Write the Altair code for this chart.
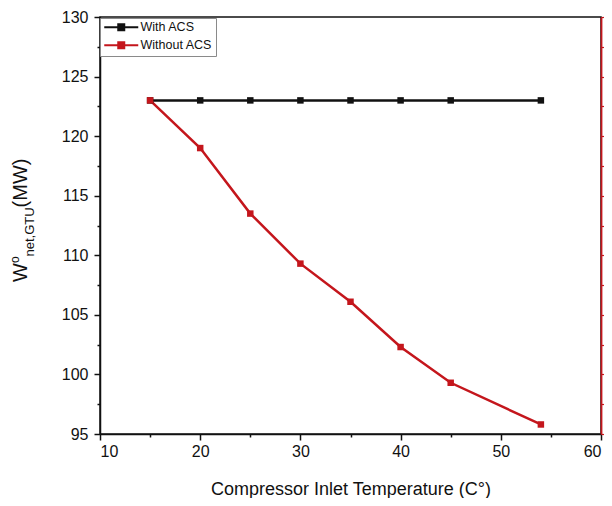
import altair as alt
import pandas as pd

# ---- data ----
temps = [15, 20, 25, 30, 35, 40, 45, 54]
with_acs = [123.0, 123.0, 123.0, 123.0, 123.0, 123.0, 123.0, 123.0]
without_acs = [123.0, 119.0, 113.5, 109.3, 106.1, 102.3, 99.3, 95.8]
series_names = ["With ACS", "Without ACS"]
series_colors = ["#111111", "#c4161c"]
x_tick_values = [10, 15, 20, 25, 30, 35, 40, 45, 50, 55, 60]
y_tick_values = [95, 97.5, 100, 102.5, 105, 107.5, 110, 112.5, 115, 117.5,
                 120, 122.5, 125, 127.5, 130]
x_title = "Compressor Inlet Temperature (C\u00b0)"
y_title_parts = ["W", "o", "net,GTU", "(MW)"]

FONT = "Liberation Sans"

rows = []
for name, vals in zip(series_names, [with_acs, without_acs]):
    for t, v in zip(temps, vals):
        rows.append({"T": t, "W": v, "series": name})
df = pd.DataFrame(rows)

xscale = alt.Scale(domain=[10, 60], nice=False, zero=False)
yscale = alt.Scale(domain=[95, 130], nice=False, zero=False)
color = alt.Color(
    "series:N",
    scale=alt.Scale(domain=series_names, range=series_colors),
    legend=alt.Legend(
        title=None,
        orient="none",
        legendX=0,
        legendY=1,
        padding=3,
        strokeColor="#8a8a8a",
        fillColor="white",
        labelFont=FONT,
        labelFontSize=12.5,
        labelColor="#111111",
        labelOffset=25,
        rowPadding=3,
        symbolType="M-1,0L5.8,0M1.8,-0.6L3,-0.6L3,0.6L1.8,0.6Z",
        symbolSize=100,
        symbolStrokeWidth=2,
    ),
)

x_axis = alt.Axis(
    values=x_tick_values,
    labelExpr="datum.value % 10 === 0 ? datum.label : ''",
    tickSize={"condition": {"test": "datum.value % 10 === 0", "value": 6}, "value": 3},
    labelFont=FONT, labelFontSize=16, labelColor="#111111", labelPadding=3,
    title=x_title, titleFont=FONT, titleFontSize=18, titleFontWeight="normal",
    titleColor="#111111", titlePadding=21,
    domainColor="#111111", domainWidth=1.5, tickColor="#111111", tickWidth=1.5,
    grid=False,
)

y_axis_left = alt.Axis(
    values=y_tick_values,
    labelExpr="datum.value % 5 === 0 ? datum.label : ''",
    tickSize={"condition": {"test": "datum.value % 5 === 0", "value": 6}, "value": 3},
    labelFont=FONT, labelFontSize=16, labelColor="#111111", labelPadding=6,
    title=None, domainColor="#111111", domainWidth=1.5,
    tickColor="#111111", tickWidth=1.5, grid=False,
)

y_axis_right = alt.Axis(
    orient="right", values=y_tick_values, labels=False, tickSize=4,
    title=None, domainColor="#c4161c", domainWidth=1.8,
    tickColor="#c4161c", tickWidth=1.2, grid=False,
)

lines = alt.Chart(df).mark_line(strokeWidth=2.5).encode(
    x=alt.X("T:Q", scale=xscale, axis=x_axis),
    y=alt.Y("W:Q", scale=yscale, axis=y_axis_left),
    color=color,
    detail="series:N",
)

points = alt.Chart(df).mark_point(shape="square", filled=True, size=42, opacity=1).encode(
    x=alt.X("T:Q", scale=xscale),
    y=alt.Y("W:Q", scale=yscale, axis=y_axis_right),
    color=color,
)

# composed y-axis title with superscript and subscript
def piece(txt, x, y, size):
    return alt.Chart(pd.DataFrame({"t": [txt]})).mark_text(
        angle=270, align="left", baseline="alphabetic", font=FONT,
        fontSize=size, color="#111111",
    ).encode(text="t:N", x=alt.value(x), y=alt.value(y))

title_layers = [
    piece(y_title_parts[0], -73, 265, 20),
    piece(y_title_parts[1], -81, 246, 12),
    piece(y_title_parts[2], -66, 239.5, 13),
    piece(y_title_parts[3], -73, 190.4, 20),
]

chart = alt.layer(lines, points, *title_layers).resolve_scale(
    y="independent"
).properties(
    width=501, height=417,
    padding={"left": 92, "top": 9, "right": 3, "bottom": 64},
    autosize=alt.AutoSizeParams(type="none"),
    background="white",
).configure_view(stroke="#111111", strokeWidth=1.5)

chart.save("out.html", embed_options={"renderer": "svg", "actions": False})
